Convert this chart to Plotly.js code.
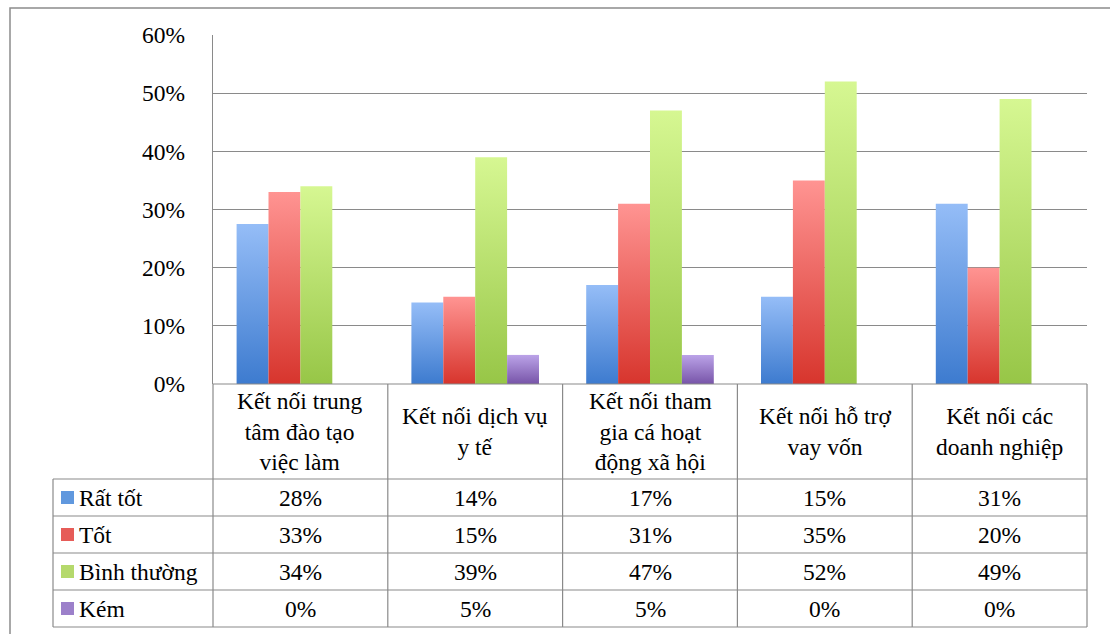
<!DOCTYPE html>
<html>
<head>
<meta charset="utf-8">
<script src="https://cdn.plot.ly/plotly-3.0.1.min.js"></script>
<style>
  html, body { margin: 0; padding: 0; background: #ffffff; }
  #chart { width: 1110px; height: 634px; }
</style>
</head>
<body>
<div id="chart"></div>
<script>
// ---- data ----
const categories = [
  'Kết nối trung<br>tâm đào tạo<br>việc làm',
  'Kết nối dịch vụ<br>y tế',
  'Kết nối tham<br>gia cá hoạt<br>động xã hội',
  'Kết nối hỗ trợ<br>vay vốn',
  'Kết nối các<br>doanh nghiệp'
];
const seriesNames = ['Rất tốt', 'Tốt', 'Bình thường', 'Kém'];
const ratTot     = [0.275, 0.14, 0.17, 0.15, 0.31];
const tot        = [0.33, 0.15, 0.31, 0.35, 0.20];
const binhThuong = [0.34, 0.39, 0.47, 0.52, 0.49];
const kem        = [0.00, 0.05, 0.05, 0.00, 0.00];
const yTicks     = [0, 0.1, 0.2, 0.3, 0.4, 0.5, 0.6];

const seriesValues = [ratTot, tot, binhThuong, kem];
const colors = ['#6098de', '#e65c58', '#b5d96c', '#9c80ca'];
const gradTop = ['#95bdf7', '#ff9492', '#d6f792', '#bba3e8'];
const gradBot = ['#3d7bcf', '#d7352d', '#97c647', '#7754a8'];

// ---- layout geometry (pixels) ----
const L = 213, R = 1087, T = 35, B = 384;
const xp = p => (p - L) / (R - L);
const yp = p => (B - p) / (B - T);
const rowEdges = [384, 479, 516, 553, 590, 627];
const legendLeft = 53;
const FONT = 'Times New Roman';
const FS = 23.5;
const lineColor = '#8a8a8a';

const traces = seriesValues.map((vals, i) => ({
  type: 'bar',
  name: seriesNames[i],
  x: categories,
  y: vals,
  marker: { color: colors[i], line: { width: 0 } },
  hoverinfo: 'skip'
}));

const shapes = [];
const annotations = [];

// outer chart border
shapes.push({ type: 'rect', xref: 'paper', yref: 'paper',
  x0: xp(10), x1: xp(1116), y0: yp(8), y1: yp(640),
  line: { color: '#8c8c8c', width: 1.5 }, layer: 'below' });

// horizontal table lines
rowEdges.forEach((r, k) => {
  shapes.push({ type: 'line', xref: 'paper', yref: 'paper',
    x0: k === 0 ? 0 : xp(legendLeft), x1: 1, y0: yp(r), y1: yp(r),
    line: { color: lineColor, width: 1.2 } });
});
// vertical table lines at category boundaries
for (let i = 0; i <= categories.length; i++) {
  shapes.push({ type: 'line', xref: 'paper', yref: 'paper',
    x0: i / categories.length, x1: i / categories.length,
    y0: yp(rowEdges[0]), y1: yp(rowEdges[rowEdges.length - 1]),
    line: { color: lineColor, width: 1.2 } });
}
// legend column left border
shapes.push({ type: 'line', xref: 'paper', yref: 'paper',
  x0: xp(legendLeft), x1: xp(legendLeft),
  y0: yp(rowEdges[1]), y1: yp(rowEdges[rowEdges.length - 1]),
  line: { color: lineColor, width: 1.2 } });

// header row: category names
categories.forEach((c, i) => {
  annotations.push({ xref: 'x', yref: 'paper', x: c,
    y: yp((rowEdges[0] + rowEdges[1]) / 2), text: c, showarrow: false,
    align: 'center', xanchor: 'center', yanchor: 'middle',
    font: { family: FONT, size: FS, color: '#000' } });
});

// data rows
seriesValues.forEach((vals, s) => {
  const yc = yp((rowEdges[s + 1] + rowEdges[s + 2]) / 2);
  shapes.push({ type: 'rect', xref: 'paper', yref: 'paper',
    x0: xp(61), x1: xp(74), y0: yc - 6.5 / (B - T), y1: yc + 6.5 / (B - T),
    fillcolor: colors[s], line: { width: 0 } });
  annotations.push({ xref: 'paper', yref: 'paper', x: xp(77), y: yc,
    text: seriesNames[s], showarrow: false, xanchor: 'left', yanchor: 'middle',
    font: { family: FONT, size: FS, color: '#000' } });
  vals.forEach((v, i) => {
    annotations.push({ xref: 'x', yref: 'paper', x: categories[i], y: yc,
      text: Math.round(v * 100) + '%', showarrow: false,
      xanchor: 'center', yanchor: 'middle',
      font: { family: FONT, size: FS, color: '#000' } });
  });
});

const layout = {
  width: 1110, height: 634,
  margin: { l: L, r: 1110 - R, t: T, b: 634 - B, pad: 0 },
  paper_bgcolor: '#ffffff', plot_bgcolor: '#ffffff',
  barmode: 'group', bargap: 0.27, bargroupgap: 0,
  showlegend: false,
  font: { family: FONT, size: FS, color: '#000' },
  xaxis: { type: 'category', showticklabels: false, ticks: '',
    showgrid: false, zeroline: false, showline: false, fixedrange: true },
  yaxis: { range: [0, 0.6], tickvals: yTicks, tickformat: '.0%',
    showgrid: true, gridcolor: '#8a8a8a', gridwidth: 1,
    zeroline: false, showline: true, linecolor: '#8a8a8a', linewidth: 1.2,
    ticks: '', ticklabelstandoff: 22,
    tickfont: { family: FONT, size: FS, color: '#000' }, fixedrange: true },
  shapes: shapes,
  annotations: annotations
};

function applyGradients(gd) {
  const svg = gd.querySelector('svg.main-svg');
  if (!svg) return;
  const ns = 'http://www.w3.org/2000/svg';
  let defs = svg.querySelector('defs');
  if (!defs) { defs = document.createElementNS(ns, 'defs'); svg.insertBefore(defs, svg.firstChild); }
  colors.forEach((c, i) => {
    const id = 'bargrad' + i;
    if (document.getElementById(id)) return;
    const g = document.createElementNS(ns, 'linearGradient');
    g.setAttribute('id', id);
    g.setAttribute('x1', '0'); g.setAttribute('y1', '0');
    g.setAttribute('x2', '0'); g.setAttribute('y2', '1');
    [[0, gradTop[i]], [1, gradBot[i]]].forEach(([o, col]) => {
      const st = document.createElementNS(ns, 'stop');
      st.setAttribute('offset', o); st.setAttribute('stop-color', col);
      g.appendChild(st);
    });
    defs.appendChild(g);
  });
  gd.querySelectorAll('.barlayer .trace').forEach((tr, i) => {
    tr.querySelectorAll('path').forEach(p => {
      p.style.fill = 'url(#bargrad' + (i % colors.length) + ')';
    });
  });
}

Plotly.newPlot('chart', traces, layout, { staticPlot: true, displayModeBar: false })
  .then(gd => applyGradients(gd));
</script>
</body>
</html>
